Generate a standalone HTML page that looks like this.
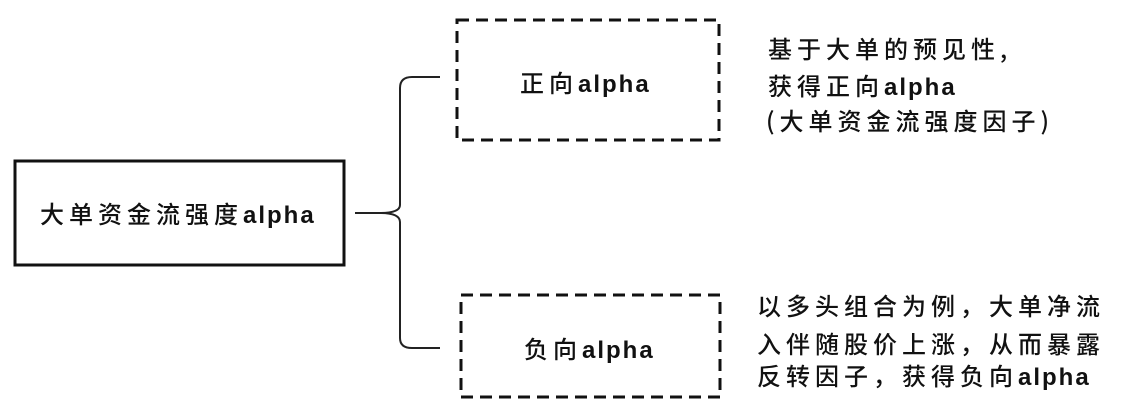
<!DOCTYPE html>
<html><head><meta charset="utf-8"><style>
html,body{margin:0;padding:0;background:#fff;}
body{width:1125px;height:411px;position:relative;overflow:hidden;}
.t{position:absolute;font-family:"Noto Sans CJK SC","WenQuanYi Zen Hei",sans-serif;font-size:24px;font-weight:500;letter-spacing:5px;color:#111;white-space:nowrap;line-height:24px;}
.a{font-family:"Liberation Sans",sans-serif;letter-spacing:2px;font-size:24px;font-weight:bold;}
</style></head><body>
<svg width="1125" height="411" style="position:absolute;left:0;top:0">
<rect x="15" y="161" width="329" height="104" fill="none" stroke="#111" stroke-width="3"/>
<rect x="457" y="20" width="262" height="120" fill="none" stroke="#111" stroke-width="3" stroke-dasharray="12,7"/>
<rect x="461" y="295" width="259" height="102" fill="none" stroke="#111" stroke-width="3" stroke-dasharray="12,7"/>
<path d="M355 213 L380 213 Q400 213 400 205 L400 88 Q400 77 412 77 L440 77" fill="none" stroke="#222" stroke-width="2"/>
<path d="M380 213 Q400 213 400 222 L400 338 Q400 348 412 348 L440 348" fill="none" stroke="#222" stroke-width="2"/>
</svg>
<div class="t" style="left:40px;top:201px;">大单资金流强度<span class="a">alpha</span></div>
<div class="t" style="left:520px;top:70px;">正向<span class="a">alpha</span></div>
<div class="t" style="left:524px;top:336px;">负向<span class="a">alpha</span></div>
<div class="t" style="left:768px;top:36px;">基于大单的预见性,</div>
<div class="t" style="left:768px;top:73px;">获得正向<span class="a">alpha</span></div>
<div class="t" style="left:766px;top:108px;">(大单资金流强度因子)</div>
<div class="t" style="left:757px;top:293px;">以多头组合为例，大单净流</div>
<div class="t" style="left:757px;top:331px;">入伴随股价上涨，从而暴露</div>
<div class="t" style="left:757px;top:363px;">反转因子，获得负向<span class="a">alpha</span></div>
</body></html>
